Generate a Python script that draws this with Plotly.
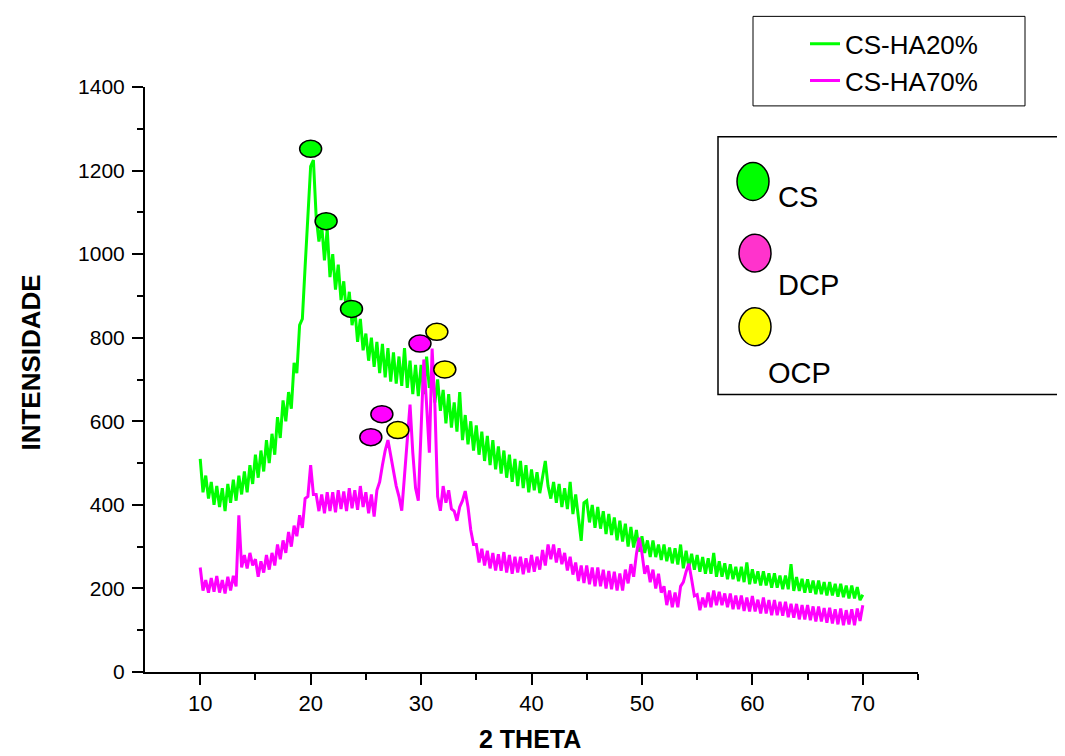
import plotly.graph_objects as go

# ---------------- data ----------------
theta_start = 10.0
theta_step = 0.25

cs_ha20 = [
    510, 430, 470, 415,    # 10
    455, 400, 445, 395,    # 11
    440, 385, 450, 405,    # 12
    460, 410, 470, 425,    # 13
    480, 430, 495, 450,    # 14
    520, 465, 530, 480,    # 15
    555, 500, 570, 520,    # 16
    610, 560, 650, 600,    # 17
    670, 630, 740, 715,    # 18
    830, 845, 970, 1090,   # 19
    1210, 1225, 1090, 1030,  # 20
    1070, 985, 1060, 945,  # 21
    1000, 915, 975, 890,   # 22
    935, 855, 910, 830,    # 23
    870, 790, 845, 770,    # 24
    810, 745, 800, 730,    # 25
    790, 715, 785, 705,    # 26
    775, 695, 765, 690,    # 27
    755, 685, 775, 680,    # 28
    745, 665, 735, 660,    # 29
    735, 665, 755, 680,    # 30
    715, 645, 700, 625,    # 31
    675, 595, 665, 585,    # 32
    645, 575, 670, 555,    # 33
    615, 545, 600, 530,    # 34
    590, 520, 575, 505,    # 35
    565, 495, 555, 485,    # 36
    540, 475, 530, 465,    # 37
    520, 455, 510, 445,    # 38
    505, 440, 495, 430,    # 39
    485, 435, 478, 428,    # 40
    470, 505, 445, 415,    # 41
    455, 405, 450, 395,    # 42
    440, 390, 455, 378,    # 43
    425, 372, 314, 405,    # 44
    410, 358, 400, 345,    # 45
    395, 343, 385, 330,    # 46
    378, 328, 370, 315,    # 47
    362, 312, 355, 300,    # 48
    347, 298, 340, 288,    # 49
    325, 285, 315, 275,    # 50
    315, 275, 305, 268,    # 51
    305, 265, 298, 260,    # 52
    296, 257, 305, 248,    # 53
    290, 250, 283, 245,    # 54
    280, 240, 275, 235,    # 55
    272, 235, 285, 228,    # 56
    265, 228, 260, 222,    # 57
    258, 222, 252, 217,    # 58
    252, 215, 262, 210,    # 59
    246, 212, 241, 207,    # 60
    241, 207, 236, 202,    # 61
    236, 202, 231, 198,    # 62
    231, 198, 258, 194,    # 63
    227, 194, 223, 190,    # 64
    222, 190, 219, 186,    # 65
    219, 186, 215, 183,    # 66
    215, 183, 211, 180,    # 67
    211, 179, 207, 176,    # 68
    207, 176, 203, 172,    # 69
    185,                   # 70
]

cs_ha70 = [
    250, 195, 220, 190,    # 10
    225, 192, 230, 190,    # 11
    220, 188, 228, 195,    # 12
    230, 205, 375, 250,    # 13
    280, 248, 285, 255,    # 14
    270, 228, 265, 238,    # 15
    280, 245, 285, 255,    # 16
    305, 270, 315, 285,    # 17
    335, 300, 350, 325,    # 18
    375, 345, 415, 420,    # 19
    495, 425, 425, 385,    # 20
    425, 380, 430, 385,    # 21
    430, 382, 435, 390,    # 22
    432, 385, 440, 392,    # 23
    435, 388, 445, 395,    # 24
    430, 380, 425, 372,    # 25
    435, 455, 495, 530,    # 26
    555, 515, 478, 445,    # 27
    420, 386, 470, 560,    # 28
    640, 525, 440, 410,    # 29
    560, 748, 640, 525,    # 30
    774, 640, 420, 386,    # 31
    445, 405, 435, 390,    # 32
    385, 362, 395, 410,    # 33
    433, 395, 340, 305,    # 34
    305, 262, 295, 255,    # 35
    290, 248, 285, 243,    # 36
    282, 242, 287, 238,    # 37
    280, 235, 276, 238,    # 38
    276, 234, 272, 238,    # 39
    280, 240, 276, 245,    # 40
    292, 255, 305, 270,    # 41
    305, 262, 296, 258,    # 42
    285, 243, 276, 233,    # 43
    262, 218, 255, 213,    # 44
    255, 210, 250, 205,    # 45
    250, 205, 245, 200,    # 46
    242, 198, 240, 195,    # 47
    236, 195, 245, 212,    # 48
    258, 228, 282, 321,    # 49
    285, 235, 255, 215,    # 50
    245, 200, 235, 190,    # 51
    205, 160, 195, 155,    # 52
    190, 155, 205, 215,    # 53
    240, 259, 222, 182,    # 54
    185, 148, 178, 155,    # 55
    190, 155, 195, 160,    # 56
    192, 160, 188, 155,    # 57
    188, 150, 183, 150,    # 58
    183, 146, 178, 145,    # 59
    182, 145, 173, 140,    # 60
    178, 140, 172, 136,    # 61
    172, 136, 168, 135,    # 62
    168, 131, 163, 130,    # 63
    163, 126, 160, 126,    # 64
    160, 124, 157, 121,    # 65
    157, 121, 153, 118,    # 66
    154, 116, 150, 114,    # 67
    152, 112, 148, 114,    # 68
    150, 112, 152, 122,    # 69
    160,                   # 70
]

two_theta = [theta_start + theta_step * i for i in range(len(cs_ha20))]

series_names = ["CS-HA20%", "CS-HA70%"]
series_colors = ["#00FF00", "#FF00FF"]

# peak markers (2theta, intensity) per phase
cs_peaks_x = [20.0, 21.4, 23.7]
cs_peaks_y = [1252, 1079, 869]
dcp_peaks_x = [26.45, 25.45, 29.9]
dcp_peaks_y = [617, 562, 786]
ocp_peaks_x = [27.9, 31.43, 32.15]
ocp_peaks_y = [579, 814, 724]

phase_names = ["CS", "DCP", "OCP"]
phase_colors_plot = ["#00FF00", "#FF00FF", "#FFFF00"]
phase_colors_key = ["#00FF00", "#FF33CC", "#FFFF00"]

x_ticks = [10, 20, 30, 40, 50, 60, 70]
y_ticks = [0, 200, 400, 600, 800, 1000, 1200, 1400]

# ---------------- layout helpers (screen pixel -> paper) ----------------
OFF = 8                      # page body margin
L, R, T, B = 145, 918, 84, 672   # plot area in screen pixels
W, H = 1065 - OFF, 756 - OFF


def px(xp):
    return (xp - L) / (R - L)


def py(yp):
    return (B - yp) / (B - T)


fig = go.Figure()
for name, col, ys in zip(series_names, series_colors, [cs_ha20, cs_ha70]):
    fig.add_trace(go.Scatter(x=two_theta, y=ys, mode="lines", name=name,
                             line=dict(color=col, width=3)))

shapes = []
for xs, ys, col in zip([cs_peaks_x, dcp_peaks_x, ocp_peaks_x],
                       [cs_peaks_y, dcp_peaks_y, ocp_peaks_y],
                       phase_colors_plot):
    for xv, yv in zip(xs, ys):
        shapes.append(dict(type="circle", xref="x", yref="y",
                           xsizemode="pixel", ysizemode="pixel",
                           xanchor=xv, yanchor=yv,
                           x0=-11, x1=11, y0=-8.5, y1=8.5,
                           fillcolor=col, line=dict(color="black", width=1.5),
                           layer="above"))

# legend box for series legend
shapes.append(dict(type="rect", xref="paper", yref="paper",
                   x0=px(753), x1=px(1025), y0=py(103), y1=py(13),
                   line=dict(color="black", width=1), fillcolor="rgba(0,0,0,0)"))
# phase key box
shapes.append(dict(type="rect", xref="paper", yref="paper",
                   x0=px(718), x1=px(1075), y0=py(393), y1=py(134),
                   line=dict(color="black", width=1.5), fillcolor="white",
                   layer="above"))

key_ell_centers = [(753, 179), (755, 251), (755, 325)]
key_text_pos = [(776, 195), (776, 283), (766, 371)]
annotations = []
for (cx, cy), col in zip(key_ell_centers, phase_colors_key):
    shapes.append(dict(type="circle", xref="paper", yref="paper",
                       x0=px(cx - 16), x1=px(cx + 16), y0=py(cy + 19), y1=py(cy - 19),
                       fillcolor=col, line=dict(color="black", width=1.5),
                       layer="above"))
for (tx, ty), name in zip(key_text_pos, phase_names):
    annotations.append(dict(xref="paper", yref="paper", x=px(tx), y=py(ty),
                            xanchor="left", yanchor="middle", text=name,
                            showarrow=False,
                            font=dict(family="Arial", size=29, color="black")))

annotations.append(dict(xref="paper", yref="paper", x=px(530), y=py(739),
                        text="<b>2 THETA</b>", showarrow=False,
                        xanchor="center", yanchor="middle",
                        font=dict(family="Arial", size=25, color="black")))
annotations.append(dict(xref="paper", yref="paper", x=px(31), y=py(361),
                        text="<b>INTENSIDADE</b>", showarrow=False, textangle=-90,
                        xanchor="center", yanchor="middle",
                        font=dict(family="Arial", size=26, color="black")))

fig.update_layout(
    width=W, height=H,
    margin=dict(l=L - OFF, r=W - (R - OFF), t=T - OFF, b=H - (B - OFF), pad=0),
    paper_bgcolor="white", plot_bgcolor="white",
    shapes=shapes, annotations=annotations,
    showlegend=True,
    legend=dict(x=px(805), y=py(17), xanchor="left", yanchor="top",
                bgcolor="rgba(0,0,0,0)", borderwidth=0,
                font=dict(family="Arial", size=26, color="black"),
                tracegroupgap=0),
    xaxis=dict(range=[5, 75], tickvals=x_ticks, ticktext=[str(v) for v in x_ticks],
               showgrid=False, zeroline=False, showline=True, linecolor="black",
               linewidth=2, ticks="outside", ticklen=11, tickwidth=2, tickcolor="black",
               tickfont=dict(family="Arial", size=22, color="black"),
               minor=dict(tickvals=[15, 25, 35, 45, 55, 65, 75], ticks="outside",
                          ticklen=6, tickwidth=2, tickcolor="black")),
    yaxis=dict(range=[0, 1400], tickvals=y_ticks, ticktext=[str(v) for v in y_ticks],
               showgrid=False, zeroline=False, showline=True, linecolor="black",
               linewidth=2, ticks="outside", ticklen=11, tickwidth=2, tickcolor="black",
               tickfont=dict(family="Arial", size=21, color="black"),
               ticklabelstandoff=3,
               minor=dict(tickvals=[100, 300, 500, 700, 900, 1100, 1300], ticks="outside",
                          ticklen=6, tickwidth=2, tickcolor="black")),
)

fig.write_html("out.html")
